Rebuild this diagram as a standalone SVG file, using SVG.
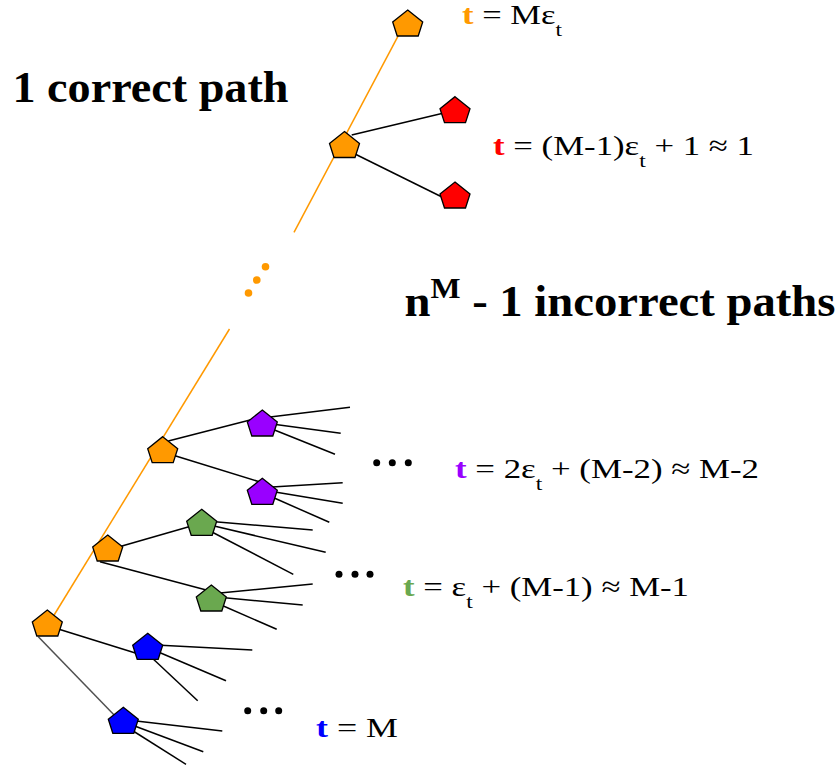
<svg xmlns="http://www.w3.org/2000/svg" xmlns:xlink="http://www.w3.org/1999/xlink" width="840" height="769" viewBox="0 0 840 769">
<style>
.bg{fill:#ffffff}
.pent{stroke:#000000;stroke-width:1.3;stroke-linejoin:miter}
.or{fill:#FF9900}.rd{fill:#FF0000}.pu{fill:#9900FF}.gr{fill:#6AA84F}.bl{fill:#0000FF}
.edge{stroke:#000000;stroke-width:1.5;fill:none}
.gray{stroke:#505050;stroke-width:1.5;fill:none}
.oline{stroke:#FF9900;stroke-width:1.5;fill:none}
.title{font-family:"Liberation Serif","Times New Roman",serif;font-weight:bold;font-size:44px;fill:#000}
.lab{font-family:"Liberation Serif","Times New Roman",serif;font-size:28px;fill:#000}
.tb{font-weight:bold}
.sub{font-size:19px}
</style>
<defs>
<path id="pent" d="M0,0 L15,12 L10.5,26 L-10.5,26 L-15,12 Z"/>
</defs>
<rect class="bg" x="0" y="0" width="840" height="769"/>
<g id="connectors">
<line class="oline" x1="398.3" y1="35.7" x2="294" y2="232.3"/>
<line class="oline" x1="229.5" y1="329" x2="53.5" y2="616"/>
<g id="orange-dots" fill="#FF9900">
<circle cx="265.5" cy="266.7" r="3.8"/>
<circle cx="256.8" cy="280" r="3.8"/>
<circle cx="248.5" cy="293" r="3.8"/>
</g>
<line class="edge" x1="351.7" y1="135" x2="446" y2="112.5"/>
<line class="edge" x1="355" y1="154" x2="446" y2="199"/>
<line class="edge" x1="168.3" y1="441" x2="252" y2="419.5"/>
<line class="edge" x1="270" y1="417" x2="350" y2="407.3"/>
<line class="edge" x1="272" y1="424" x2="340.7" y2="433.3"/>
<line class="edge" x1="272" y1="429" x2="335" y2="454.3"/>
<line class="edge" x1="175" y1="455.7" x2="260" y2="482"/>
<line class="edge" x1="272" y1="487" x2="342.7" y2="482.7"/>
<line class="edge" x1="272" y1="491.5" x2="342.7" y2="503.3"/>
<line class="edge" x1="272" y1="497" x2="329.3" y2="522.3"/>
<line class="edge" x1="115" y1="548" x2="195" y2="525"/>
<line class="edge" x1="212" y1="521.5" x2="312.7" y2="530"/>
<line class="edge" x1="212" y1="525.5" x2="325.7" y2="552.3"/>
<line class="edge" x1="210" y1="531" x2="293.3" y2="574.3"/>
<line class="edge" x1="100" y1="561.7" x2="210" y2="591"/>
<line class="edge" x1="220" y1="593" x2="312.7" y2="584"/>
<line class="edge" x1="222" y1="597.5" x2="302.7" y2="605"/>
<line class="edge" x1="220" y1="604.5" x2="276.7" y2="629.3"/>
<line class="edge" x1="55" y1="628" x2="145" y2="656"/>
<line class="edge" x1="156" y1="645" x2="252.3" y2="650"/>
<line class="edge" x1="156" y1="651" x2="226" y2="680.7"/>
<line class="edge" x1="150" y1="656" x2="197.7" y2="700.7"/>
<line class="gray" x1="38.3" y1="636.7" x2="118" y2="719"/>
<line class="edge" x1="132" y1="720.5" x2="222.3" y2="731"/>
<line class="edge" x1="132" y1="725" x2="203.3" y2="751.7"/>
<line class="edge" x1="130" y1="729" x2="186" y2="764.3"/>
</g>
<g id="node-orange-top"><use href="#pent" class="pent or" x="407.7" y="10"/></g>
<g id="node-orange-mid"><use href="#pent" class="pent or" x="344.5" y="131.5"/></g>
<g id="node-red-1"><use href="#pent" class="pent rd" x="455" y="96.7"/></g>
<g id="node-red-2"><use href="#pent" class="pent rd" x="455" y="182"/></g>
<g id="node-orange-a"><use href="#pent" class="pent or" x="162.7" y="436.7"/></g>
<g id="node-orange-b"><use href="#pent" class="pent or" x="107.7" y="535"/></g>
<g id="node-orange-c"><use href="#pent" class="pent or" x="47.3" y="610"/></g>
<g id="node-purple-1"><use href="#pent" class="pent pu" x="262.3" y="410"/></g>
<g id="node-purple-2"><use href="#pent" class="pent pu" x="262.3" y="478.3"/></g>
<g id="node-green-1"><use href="#pent" class="pent gr" x="201.7" y="509.3"/></g>
<g id="node-green-2"><use href="#pent" class="pent gr" x="211.3" y="585"/></g>
<g id="node-blue-1"><use href="#pent" class="pent bl" x="147.7" y="633.3"/></g>
<g id="node-blue-2"><use href="#pent" class="pent bl" x="123.3" y="707.3"/></g>
<g id="ellipses" fill="#000">
<circle cx="376.7" cy="462.7" r="3.5"/><circle cx="392.3" cy="462.7" r="3.5"/><circle cx="408.3" cy="462.7" r="3.5"/>
<circle cx="339" cy="574.3" r="3.5"/><circle cx="355" cy="574.3" r="3.5"/><circle cx="370" cy="574.3" r="3.5"/>
<circle cx="247.7" cy="710.7" r="3.5"/><circle cx="263.7" cy="710.7" r="3.5"/><circle cx="278.7" cy="710.7" r="3.5"/>
</g>
<g id="labels">
<text class="title" x="12.5" y="102.3" textLength="276" lengthAdjust="spacingAndGlyphs">1 correct path</text>
<text class="title" x="404.5" y="315.7" textLength="431" lengthAdjust="spacingAndGlyphs">n<tspan font-size="30px" dy="-18">M</tspan><tspan dy="18"> - 1 incorrect paths</tspan></text>
<text class="lab" x="462" y="23.7" textLength="100" lengthAdjust="spacingAndGlyphs"><tspan class="tb" fill="#FF9900">t</tspan> = Mε<tspan class="sub" dy="12">t</tspan></text>
<text class="lab" x="493" y="155" textLength="261" lengthAdjust="spacingAndGlyphs"><tspan class="tb" fill="#FF0000">t</tspan> = (M-1)ε<tspan class="sub" dy="12">t</tspan><tspan dy="-12"> + 1 ≈ 1</tspan></text>
<text class="lab" x="455" y="478.3" textLength="304" lengthAdjust="spacingAndGlyphs"><tspan class="tb" fill="#9900FF">t</tspan> = 2ε<tspan class="sub" dy="12">t</tspan><tspan dy="-12"> + (M-2) ≈ M-2</tspan></text>
<text class="lab" x="403" y="595.7" textLength="286" lengthAdjust="spacingAndGlyphs"><tspan class="tb" fill="#6AA84F">t</tspan> = ε<tspan class="sub" dy="12">t</tspan><tspan dy="-12"> + (M-1) ≈ M-1</tspan></text>
<text class="lab" x="316" y="736.7" font-size="32px" textLength="82" lengthAdjust="spacingAndGlyphs"><tspan class="tb" fill="#0000FF">t</tspan> = M</text>
</g>
</svg>
